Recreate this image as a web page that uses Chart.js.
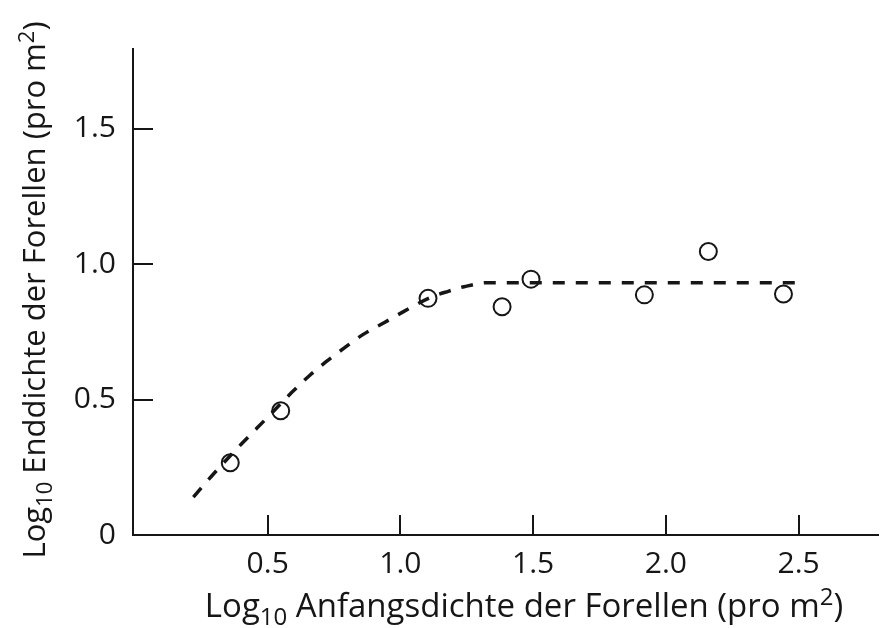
<!DOCTYPE html>
<html>
<head>
<meta charset="utf-8">
<script src="https://cdn.jsdelivr.net/npm/chart.js@4/dist/chart.umd.min.js"></script>
<style>
  html, body { margin: 0; padding: 0; background: #fff; }
  #wrap { width: 889px; height: 628px; position: relative; }
</style>
</head>
<body>
<div id="wrap"><canvas id="c"></canvas></div>
<script>
// Trout density: log10 initial density vs log10 final density (per m²)
const startDensity = [0.359, 0.549, 1.104, 1.383, 1.492, 1.919, 2.160, 2.443];
const endDensity   = [0.267, 0.459, 0.874, 0.843, 0.945, 0.887, 1.047, 0.890];

// Hand-drawn saturation curve through the observations
const fitX = [0.22, 0.30, 0.40, 0.50, 0.59, 0.66, 0.72, 0.79, 0.86, 0.94, 1.01, 1.11, 1.18, 1.24, 1.33, 1.45, 2.50];
const fitY = [0.14, 0.23, 0.335, 0.435, 0.526, 0.591, 0.640, 0.692, 0.741, 0.785, 0.824, 0.876, 0.900, 0.917, 0.932, 0.932, 0.932];

const xTickValues = [0.5, 1.0, 1.5, 2.0, 2.5];
const yTickValues = [0, 0.5, 1.0, 1.5];

// Axis titles as [text, shift] runs: -1 subscript, 1 superscript
const xTitleParts = [['Log', 0], ['10', -1], [' Anfangsdichte der Forellen (pro m', 0], ['2', 1], [')', 0]];
const yTitleParts = [['Log', 0], ['10', -1], [' Enddichte der Forellen (pro m', 0], ['2', 1], [')', 0]];

const FONT = '"Open Sans", "Noto Sans", sans-serif';
const INK = '#161616';

function runFont(size, shift) {
  return (shift === 0 ? size : Math.round(size * 0.72)) + 'px ' + FONT;
}

// Draws a run list centred horizontally on (0, 0), baseline at y = 0
function drawRuns(ctx, parts, size) {
  let total = 0;
  parts.forEach(([t, s]) => { ctx.font = runFont(size, s); total += ctx.measureText(t).width; });
  let x = -total / 2;
  ctx.textAlign = 'left';
  ctx.textBaseline = 'alphabetic';
  parts.forEach(([t, s]) => {
    ctx.font = runFont(size, s);
    const dy = s < 0 ? size * 0.24 : (s > 0 ? -size * 0.36 : 0);
    ctx.fillText(t, x, dy);
    x += ctx.measureText(t).width;
  });
}

const axisDecor = {
  id: 'axisDecor',
  afterDraw(chart) {
    const { ctx, chartArea: a, scales: { x, y } } = chart;
    ctx.save();
    ctx.strokeStyle = INK;
    ctx.lineWidth = 2;
    ctx.beginPath();
    xTickValues.forEach(v => {
      const px = Math.round(x.getPixelForValue(v));
      ctx.moveTo(px, a.bottom);
      ctx.lineTo(px, a.bottom - 20);
    });
    yTickValues.filter(v => v > 0).forEach(v => {
      const py = Math.round(y.getPixelForValue(v));
      ctx.moveTo(a.left, py);
      ctx.lineTo(a.left + 20, py);
    });
    ctx.stroke();

    ctx.fillStyle = INK;
    ctx.save();
    ctx.translate(524, 617);
    drawRuns(ctx, xTitleParts, 33);
    ctx.restore();

    ctx.save();
    ctx.translate(45, 290);
    ctx.rotate(-Math.PI / 2);
    drawRuns(ctx, yTitleParts, 31);
    ctx.restore();
    ctx.restore();
  }
};

new Chart(document.getElementById('c'), {
  type: 'scatter',
  data: {
    datasets: [
      {
        label: 'Kurve',
        data: fitX.map((v, i) => ({ x: v, y: fitY[i] })),
        showLine: true,
        cubicInterpolationMode: 'monotone',
        borderColor: INK,
        borderWidth: 3.5,
        borderDash: [12, 11],
        pointRadius: 0,
        fill: false
      },
      {
        label: 'Forellen',
        data: startDensity.map((v, i) => ({ x: v, y: endDensity[i] })),
        pointRadius: 8.5,
        pointBorderWidth: 2,
        pointBorderColor: INK,
        pointBackgroundColor: 'rgba(255,255,255,0)'
      }
    ]
  },
  options: {
    responsive: true,
    maintainAspectRatio: false,
    animation: false,
    events: [],
    layout: { padding: { top: 49, right: 0, bottom: 0, left: 0 } },
    plugins: { legend: { display: false }, tooltip: { enabled: false } },
    scales: {
      x: {
        type: 'linear',
        min: -0.0074,
        max: 2.801,
        afterFit(s) { s.height = 93; },
        afterBuildTicks(s) { s.ticks = xTickValues.map(v => ({ value: v })); },
        grid: { display: false, drawTicks: false },
        border: { display: true, color: INK, width: 2 },
        ticks: {
          padding: 11,
          color: INK,
          font: { family: FONT, size: 30 },
          callback: v => v.toFixed(1)
        }
      },
      y: {
        type: 'linear',
        min: 0,
        max: 1.795,
        afterFit(s) { s.width = 133; },
        afterBuildTicks(s) { s.ticks = yTickValues.map(v => ({ value: v })); },
        grid: { display: false, drawTicks: false },
        border: { display: true, color: INK, width: 2 },
        ticks: {
          padding: 17,
          color: INK,
          font: { family: FONT, size: 30 },
          callback: v => (v === 0 ? '0' : v.toFixed(1))
        }
      }
    }
  },
  plugins: [axisDecor]
});
</script>
</body>
</html>
